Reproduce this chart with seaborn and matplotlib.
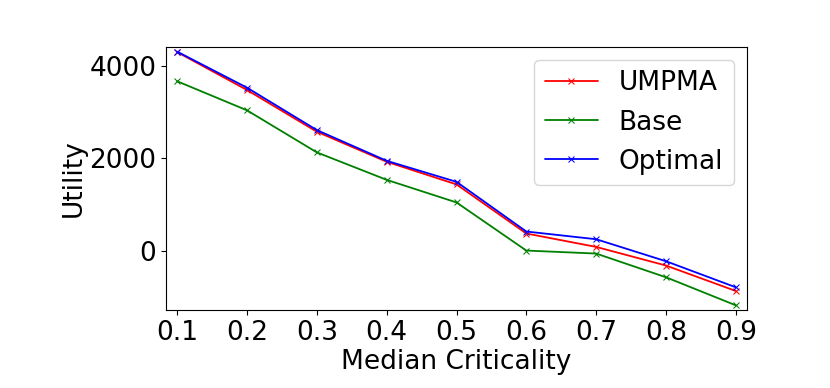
import pandas as pd
import matplotlib
matplotlib.use("Agg")
import matplotlib.pyplot as plt
import seaborn as sns

# Values
criticality = [0.1, 0.2, 0.3, 0.4, 0.5, 0.6, 0.7, 0.8, 0.9]
umpma = [4300, 3480, 2577, 1927, 1437, 375, 85, -318, -869]
base = [3669, 3040, 2130, 1536, 1047, 6, -59, -572, -1179]
optimal = [4310, 3530, 2613, 1948, 1493, 418, 251, -225, -789]

series_names = ['UMPMA', 'Base', 'Optimal']
series_colors = ['r', 'g', 'b']

sns.set_style("ticks", {'axes.edgecolor': 'black', 'text.color': 'black',
                        'axes.labelcolor': 'black', 'xtick.color': 'black',
                        'ytick.color': 'black'})
plt.rcParams['font.family'] = ['DejaVu Sans']

fig, ax = plt.subplots(figsize=(8.3, 3.88), dpi=100)
fig.subplots_adjust(left=0.2, right=0.9, top=0.88, bottom=0.2)

for name, vals, col in zip(series_names, [umpma, base, optimal], series_colors):
    df = pd.DataFrame({'x': criticality, 'y': vals})
    sns.lineplot(data=df, x='x', y='y', ax=ax, color=col, marker='x',
                 markersize=5, markeredgecolor=col, linewidth=1.3, label=name)

ax.margins(0.02)
ax.set_xticks(criticality)
ax.set_yticks([0, 2000, 4000])
ax.tick_params(labelsize=19)
ax.set_xlabel('Median Criticality', fontsize=19, labelpad=2)
ax.set_ylabel('Utility', fontsize=19, labelpad=2)
ax.legend(fontsize=19, loc='upper right')

plt.savefig('out.png', dpi=100)
